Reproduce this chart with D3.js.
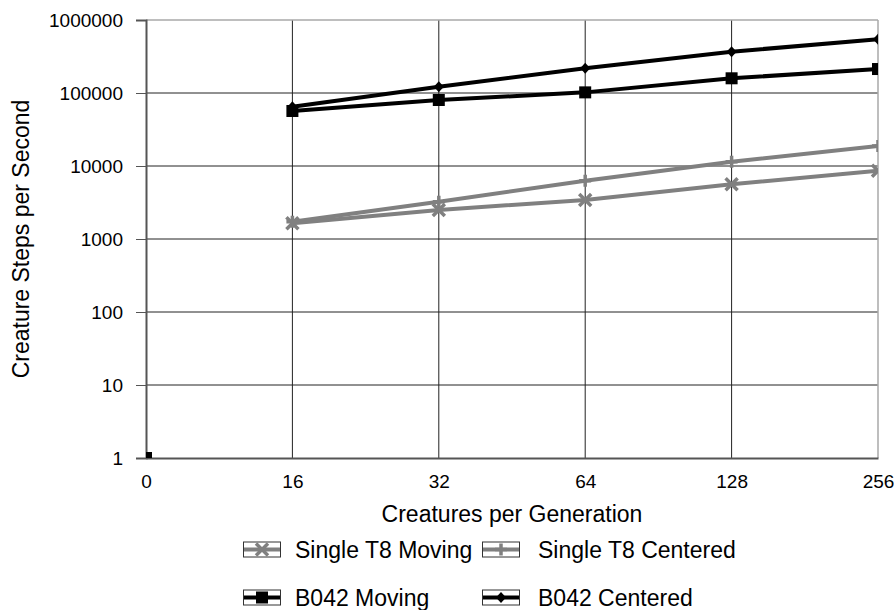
<!DOCTYPE html>
<html>
<head>
<meta charset="utf-8">
<script src="https://cdn.jsdelivr.net/npm/d3@7"></script>
<style>
  html, body { margin: 0; padding: 0; background: #fff; }
  svg { display: block; font-family: "Liberation Sans", Arial, sans-serif; }
</style>
</head>
<body>
<svg id="chart" width="894" height="610"></svg>
<script>
// ---- data ----
const categories = ["0", "16", "32", "64", "128", "256"];
const yTickValues = [1, 10, 100, 1000, 10000, 100000, 1000000];
const seriesNames = ["Single T8 Moving", "Single T8 Centered", "B042 Moving", "B042 Centered"];
const singleT8Moving   = [null, 1640, 2500, 3420, 5610, 8630];
const singleT8Centered = [null, 1720, 3240, 6290, 11450, 18800];
const b042Moving       = [null, 56700, 80200, 102000, 159000, 213000];
const b042Centered     = [null, 64900, 122000, 218000, 368000, 543000];
// lone marker drawn at the first category without a connecting line
const loneCategory = ["0"];
const loneValue = [1];

// ---- layout ----
const plot = { left: 146, right: 878, top: 20, bottom: 458 };
const svg = d3.select("#chart");

const x = d3.scalePoint().domain(categories).range([plot.left, plot.right]);
const y = d3.scaleLog().domain([1, 1000000]).range([plot.bottom, plot.top]);

const styles = [
  { name: seriesNames[0], values: singleT8Moving,   color: "#808080", marker: "x" },
  { name: seriesNames[1], values: singleT8Centered, color: "#808080", marker: "plus" },
  { name: seriesNames[2], values: b042Moving,       color: "#000000", marker: "square" },
  { name: seriesNames[3], values: b042Centered,     color: "#000000", marker: "diamond" }
];

// clip
svg.append("defs").append("clipPath").attr("id", "plotclip")
  .append("rect")
  .attr("x", plot.left).attr("y", plot.top)
  .attr("width", plot.right - plot.left).attr("height", plot.bottom - plot.top);

// gridlines
const grid = svg.append("g");
grid.selectAll("line.hg").data(yTickValues.slice(1, -1)).enter().append("line")
  .attr("x1", plot.left).attr("x2", plot.right)
  .attr("y1", d => y(d)).attr("y2", d => y(d))
  .attr("stroke", "#222").attr("stroke-width", 1);
grid.selectAll("line.vg").data(categories.slice(1, -1)).enter().append("line")
  .attr("y1", plot.top).attr("y2", plot.bottom)
  .attr("x1", d => x(d)).attr("x2", d => x(d))
  .attr("stroke", "#222").attr("stroke-width", 1);

// top & right border
svg.append("line").attr("x1", plot.left).attr("x2", plot.right)
  .attr("y1", plot.top).attr("y2", plot.top).attr("stroke", "#a8a8a8").attr("stroke-width", 1.5);
svg.append("line").attr("x1", plot.right).attr("x2", plot.right)
  .attr("y1", plot.top).attr("y2", plot.bottom).attr("stroke", "#a8a8a8").attr("stroke-width", 1.5);

// y axis
const yAxis = d3.axisLeft(y).tickValues(yTickValues).tickFormat(d3.format("d")).tickSize(10).tickPadding(13);
const gy = svg.append("g").attr("transform", `translate(${plot.left},0)`).call(yAxis);
gy.select(".domain").attr("stroke", "#555").attr("stroke-width", 2);
gy.selectAll(".tick line").attr("stroke", "#555").attr("stroke-width", 1);
gy.selectAll(".tick text").attr("font-size", 19).attr("fill", "#000")
  .attr("font-family", "'Liberation Sans', Arial, sans-serif");

// x axis
const xAxis = d3.axisBottom(x).tickSize(0).tickPadding(17);
const gx = svg.append("g").attr("transform", `translate(0,${plot.bottom})`).call(xAxis);
gx.select(".domain").attr("stroke", "#555").attr("stroke-width", 2);
gx.selectAll(".tick text").attr("font-size", 19).attr("fill", "#000")
  .attr("font-family", "'Liberation Sans', Arial, sans-serif");

// axis titles
svg.append("text").attr("x", (plot.left + plot.right) / 2).attr("y", 522)
  .attr("text-anchor", "middle").attr("font-size", 23).text("Creatures per Generation");
svg.append("text").attr("transform", `translate(29,${(plot.top + plot.bottom) / 2}) rotate(-90)`)
  .attr("text-anchor", "middle").attr("font-size", 23).text("Creature Steps per Second");

// marker drawing
function drawMarker(g, type, cx, cy, color) {
  if (type === "square") {
    g.append("rect").attr("x", cx - 6).attr("y", cy - 6).attr("width", 12).attr("height", 12).attr("fill", color);
  } else if (type === "diamond") {
    g.append("path").attr("d", `M${cx},${cy - 5.5}L${cx + 5},${cy}L${cx},${cy + 5.5}L${cx - 5},${cy}Z`).attr("fill", color);
  } else if (type === "x") {
    const s = 6;
    g.append("path").attr("d", `M${cx - s},${cy - s}L${cx + s},${cy + s}M${cx - s},${cy + s}L${cx + s},${cy - s}`)
      .attr("stroke", color).attr("stroke-width", 3.5).attr("fill", "none");
  } else if (type === "plus") {
    const s = 6;
    g.append("path").attr("d", `M${cx},${cy - s}L${cx},${cy + s}M${cx - s},${cy}L${cx + s},${cy}`)
      .attr("stroke", color).attr("stroke-width", 3.5).attr("fill", "none");
  }
}

const dataLayer = svg.append("g").attr("clip-path", "url(#plotclip)");
const line = d3.line()
  .defined(d => d.v != null)
  .x(d => x(d.c)).y(d => y(d.v));

styles.forEach(s => {
  const pts = categories.map((c, i) => ({ c, v: s.values[i] }));
  dataLayer.append("path").datum(pts).attr("d", line)
    .attr("fill", "none").attr("stroke", s.color).attr("stroke-width", 4)
    .attr("stroke-linejoin", "round");
  const mg = dataLayer.append("g");
  pts.filter(p => p.v != null).forEach(p => drawMarker(mg, s.marker, x(p.c), y(p.v), s.color));
});
// lone marker
loneCategory.forEach((c, i) => drawMarker(dataLayer, "square", x(c), y(loneValue[i]), "#000"));

// legend
const legendCols = [243, 482];
const legendRows = [549.5, 597.5];
styles.forEach((s, i) => {
  const col = i % 2, row = Math.floor(i / 2);
  const bx = legendCols[col], by = legendRows[row];
  const g = svg.append("g");
  g.append("rect").attr("x", bx + 0.5).attr("y", by - 7.5).attr("width", 37).attr("height", 15)
    .attr("fill", "#fff").attr("stroke", "#333").attr("stroke-width", 1);
  g.append("line").attr("x1", bx + 1).attr("x2", bx + 37).attr("y1", by).attr("y2", by)
    .attr("stroke", s.color).attr("stroke-width", 4);
  drawMarker(g, s.marker, bx + 19, by, s.color);
  g.append("text").attr("x", bx + (col === 0 ? 52 : 56)).attr("y", by + 8)
    .attr("font-size", 23).text(s.name);
});
</script>
</body>
</html>
